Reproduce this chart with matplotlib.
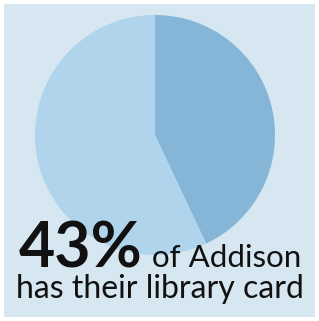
import matplotlib.pyplot as plt
from matplotlib.patches import Rectangle

# Datos
labels = ['Tienen tarjeta', 'No tienen']
values = [43, 57]
colors = ['#85b5d7', '#b0d4eb']
big_text = '43%'
line1 = 'of Addison'
line2 = 'has their library card'

W, H = 319, 321
fig = plt.figure(figsize=(W / 100, H / 100), dpi=100)
fig.patch.set_facecolor('white')

# Panel de fondo (detrás de todo)
fig.patches.append(Rectangle((4 / W, 4 / H), 311 / W, 313 / H,
                             transform=fig.transFigure, facecolor='#d6e7f1',
                             edgecolor='none', zorder=-10))

ax = fig.add_axes([35 / W, (H - 255) / H, 240 / W, 240 / H])
ax.set_zorder(1)
ax.pie(values, colors=colors, startangle=90, counterclock=False,
       wedgeprops=dict(linewidth=0))
ax.set_xlim(-1, 1)
ax.set_ylim(-1, 1)
ax.set_aspect('equal')
ax.axis('off')

fam = ['Lato', 'DejaVu Sans']
fig.text(19 / W, (H - 267) / H, big_text, fontsize=45, fontweight='bold',
         family=fam, color='#111111', va='baseline', ha='left', zorder=5)
fig.text(152 / W, (H - 267) / H, line1, fontsize=22.5, family=fam,
         color='#111111', va='baseline', ha='left', zorder=5)
fig.text(160 / W, (H - 298) / H, line2, fontsize=23, family=fam,
         color='#111111', va='baseline', ha='center', zorder=5)

fig.savefig('out.png', dpi=100, facecolor='white')
